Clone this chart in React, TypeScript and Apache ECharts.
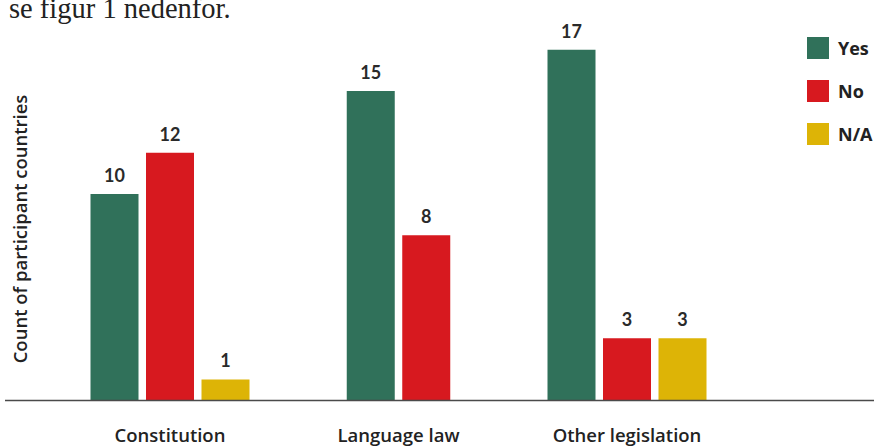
import React, { useEffect, useRef } from "react";
import * as echarts from "echarts";

const categories = ["Constitution", "Language law", "Other legislation"];
const seriesNames = ["Yes", "No", "N/A"];
const yesValues: (number | null)[] = [10, 15, 17];
const noValues: (number | null)[] = [12, 8, 3];
const naValues: (number | null)[] = [1, null, 3];
const colors = ["#30715a", "#d7191f", "#ddb406"];

const allValues = [yesValues, noValues, naValues];

const BAR_W = 48;
const GAP = 7.5;

export default function App() {
  const ref = useRef<HTMLDivElement>(null);
  useEffect(() => {
    if (!ref.current) return;
    const chart = echarts.init(ref.current, null, { renderer: "svg" });

    const makeSeries = (s: number) => ({
      type: "custom",
      name: seriesNames[s],
      itemStyle: { color: colors[s] },
      encode: { x: 0, y: 1 },
      data: allValues[s]
        .map((v, i) => [i, v])
        .filter((d) => d[1] !== null && d[1] !== undefined),
      renderItem: (params: any, api: any) => {
        const i = api.value(0);
        const v = api.value(1);
        const base = api.coord([i, 0]);
        const top = api.coord([i, v]);
        const present: number[] = [];
        allValues.forEach((arr, idx) => {
          if (arr[i] !== null && arr[i] !== undefined) present.push(idx);
        });
        const n = present.length;
        const k = present.indexOf(s);
        const cx = base[0] + (k - (n - 1) / 2) * (BAR_W + GAP);
        const x = cx - BAR_W / 2;
        return {
          type: "group",
          children: [
            {
              type: "rect",
              shape: { x, y: top[1], width: BAR_W, height: base[1] - top[1] },
              style: { fill: colors[s] },
            },
            {
              type: "text",
              x: cx,
              y: top[1] - 19,
              style: {
                text: String(v),
                fill: "#2a2a2a",
                fontFamily: "Lato",
                fontWeight: "bold",
                fontSize: 18,
                align: "center",
                verticalAlign: "middle",
              },
            },
          ],
        };
      },
    });

    chart.setOption({
      animation: false,
      grid: { left: 55.75, width: 685.5, top: 8.6, bottom: 46, containLabel: false },
      xAxis: {
        type: "category",
        data: categories,
        axisLine: { show: false },
        axisTick: { show: false },
        splitLine: { show: false },
        axisLabel: {
          margin: 25,
          color: "#222",
          fontFamily: "Open Sans",
          fontWeight: 600,
          fontSize: 18.5,
        },
      },
      yAxis: {
        type: "value",
        min: 0,
        max: 19,
        axisLine: { show: false },
        axisTick: { show: false },
        axisLabel: { show: false },
        splitLine: { show: false },
      },
      legend: {
        orient: "vertical",
        left: 807,
        top: 37,
        padding: 0,
        itemWidth: 22,
        itemHeight: 22,
        itemGap: 21,
        icon: "rect",
        data: seriesNames,
        selectedMode: false,
        textStyle: {
          color: "#222",
          fontFamily: "Open Sans",
          fontWeight: "bold",
          fontSize: 18,
          padding: [0, 0, 4, 4],
        },
      },
      graphic: [
        {
          type: "line",
          shape: { x1: 5, y1: 400.5, x2: 874, y2: 400.5 },
          style: { stroke: "#4a4a4a", lineWidth: 1.5 },
          z: 10,
        },
        {
          type: "text",
          x: 19,
          y: 229,
          rotation: Math.PI / 2,
          style: {
            text: "Count of participant countries",
            fill: "#222",
            fontFamily: "Open Sans",
            fontWeight: 600,
            fontSize: 18.5,
            align: "center",
            verticalAlign: "middle",
          },
        },
        {
          type: "text",
          x: 9,
          y: 8,
          style: {
            text: "se figur 1 nedenfor.",
            fill: "#222",
            fontFamily: "Liberation Serif",
            fontSize: 28.5,
            align: "left",
            verticalAlign: "middle",
          },
        },
      ],
      series: [makeSeries(0), makeSeries(1), makeSeries(2)],
    });
    return () => chart.dispose();
  }, []);
  return <div ref={ref} style={{ width: 874, height: 446, position: "absolute", left: 0, top: 0 }} />;
}
